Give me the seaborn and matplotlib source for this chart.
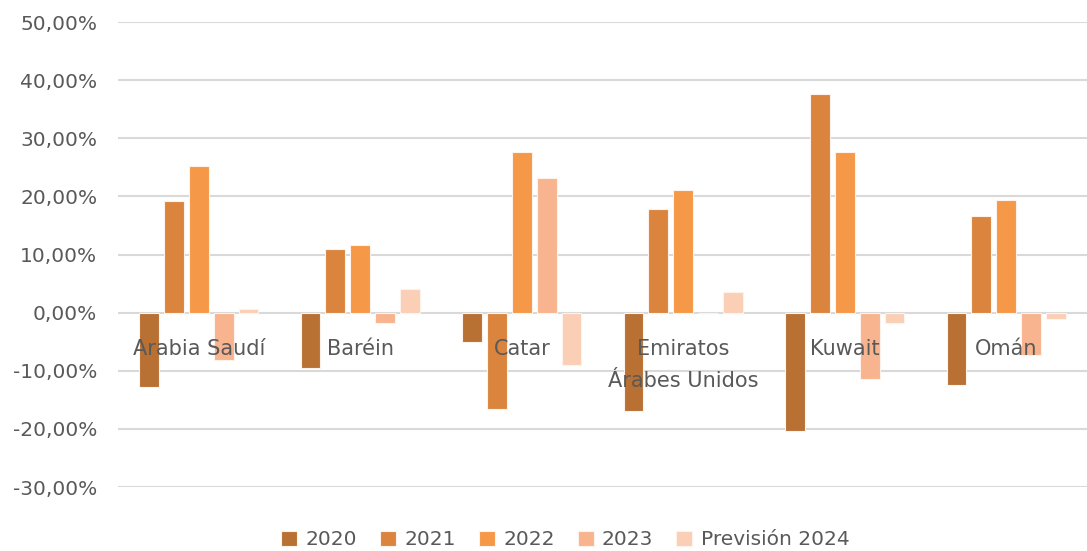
import matplotlib
matplotlib.use("Agg")
import matplotlib.pyplot as plt
from matplotlib.ticker import FuncFormatter
import seaborn as sns
import pandas as pd

paises = ["Arabia Saudí", "Baréin", "Catar", "Emiratos\nÁrabes Unidos", "Kuwait", "Omán"]
series = ["2020", "2021", "2022", "2023", "Previsión 2024"]

v2020 = [-12.7, -9.6, -5.0, -16.9, -20.4, -12.5]
v2021 = [19.2, 11.0, -16.5, 17.8, 37.7, 16.7]
v2022 = [25.3, 11.7, 27.7, 21.1, 27.6, 19.4]
v2023 = [-8.2, -1.8, 23.1, 0.0, -11.4, -7.2]
v2024 = [0.7, 4.1, -9.0, 3.5, -1.8, -1.0]

colores = ["#B87033", "#DA843E", "#F59848", "#F8B48E", "#FBCEB6"]

rows = []
for s, vals in zip(series, [v2020, v2021, v2022, v2023, v2024]):
    for p, v in zip(paises, vals):
        rows.append({"pais": p, "serie": s, "valor": v / 100})
df = pd.DataFrame(rows)

sns.set_style("white")
plt.rcParams["font.family"] = ["DejaVu Sans"]
gris = "#595959"

fig = plt.figure(figsize=(10.87, 5.51), dpi=100)
ax = fig.add_axes([0.1086, 0.116, 0.8914, 0.844])

sns.barplot(data=df, x="pais", y="valor", hue="serie", palette=colores,
            saturation=1, width=0.77, gap=0.2, edgecolor="#FDF3EC", linewidth=0.8,
            errorbar=None, ax=ax, zorder=3)

ax.set_ylim(-0.3, 0.5)
ax.set_xlim(-0.5, len(paises) - 0.5)
ax.set_yticks([i / 10 for i in range(-3, 6)])
ax.yaxis.set_major_formatter(FuncFormatter(lambda y, _: f"{y * 100:.2f}%".replace(".", ",")))
ax.grid(axis="y", color="#D9D9D9", linewidth=1.5, zorder=0)
ax.set_axisbelow(True)
for sp in ax.spines.values():
    sp.set_visible(False)
ax.tick_params(axis="y", labelsize=14.5, labelcolor=gris, length=0, pad=15)
ax.set_xticks([])
ax.set_xlabel("")
ax.set_ylabel("")

for i, p in enumerate(paises):
    ax.text(i, -0.046, p, ha="center", va="top", fontsize=15, color=gris,
            linespacing=1.75, zorder=5)

ax.legend_.remove()
handles, labels = ax.get_legend_handles_labels()
fig.legend(handles, labels, loc="lower center", bbox_to_anchor=(0.52, -0.03), ncol=5,
           frameon=False, fontsize=14.5, labelcolor=gris, handlelength=0.8,
           handleheight=0.8, handletextpad=0.4, columnspacing=1.15)

fig.savefig("out.png", dpi=100)
